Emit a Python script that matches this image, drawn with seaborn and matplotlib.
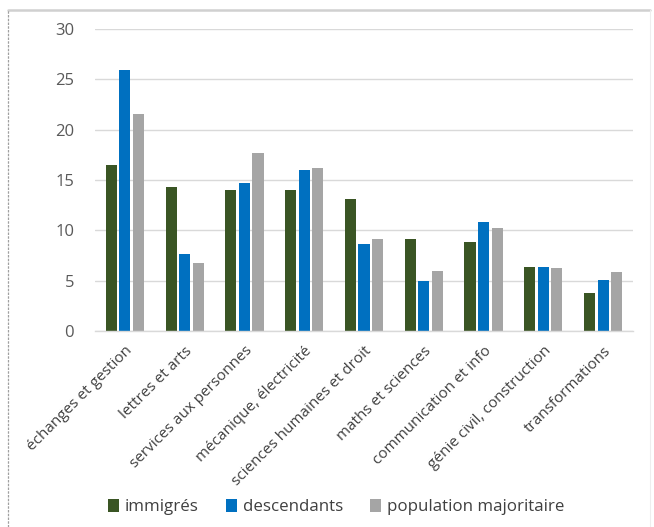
import matplotlib
matplotlib.use("Agg")
import matplotlib.pyplot as plt
from matplotlib.patches import Patch
from matplotlib.lines import Line2D
import pandas as pd
import seaborn as sns

categories = [
    "échanges et gestion",
    "lettres et arts",
    "services aux personnes",
    "mécanique, électricité",
    "sciences humaines et droit",
    "maths et sciences",
    "communication et info",
    "génie civil, construction",
    "transformations",
]
immigres = [16.5, 14.3, 14.0, 14.0, 13.1, 9.1, 8.8, 6.4, 3.8]
descendants = [25.9, 7.6, 14.7, 16.0, 8.6, 5.0, 10.8, 6.4, 5.1]
population_majoritaire = [21.6, 6.8, 17.7, 16.2, 9.1, 6.0, 10.2, 6.3, 5.9]
series_names = ["immigrés", "descendants", "population majoritaire"]
colors = ["#3A5524", "#0070C0", "#A5A5A5"]
y_ticks = [0, 5, 10, 15, 20, 25, 30]

df = pd.DataFrame({
    "categorie": categories * 3,
    "valeur": immigres + descendants + population_majoritaire,
    "groupe": [series_names[0]] * 9 + [series_names[1]] * 9 + [series_names[2]] * 9,
})

sns.set_theme(style="white")
plt.rcParams["font.family"] = ["Open Sans", "DejaVu Sans"]

fig = plt.figure(figsize=(6.54, 5.27), dpi=100)
ax = fig.add_axes([95 / 654, 1 - 331 / 527, 538 / 654, 302 / 527])

sns.barplot(
    data=df, x="categorie", y="valeur", hue="groupe",
    palette=colors, width=0.68, gap=0.18, ax=ax, legend=False,
    saturation=1, linewidth=0,
)

ax.set_ylim(0, 30)
ax.set_xlim(-0.5, len(categories) - 0.5)
ax.set_yticks(y_ticks)
ax.set_yticklabels([str(t) for t in y_ticks])
ax.yaxis.grid(True, color="#D9D9D9", linewidth=1)
ax.set_axisbelow(True)
for side in ["left", "right", "top"]:
    ax.spines[side].set_visible(False)
ax.spines["bottom"].set_color("#D9D9D9")
ax.spines["bottom"].set_linewidth(1)
ax.tick_params(axis="y", length=0, pad=15, labelsize=12, labelcolor="#595959")
ax.tick_params(axis="x", length=0, pad=9, labelsize=11, labelcolor="#404040")
ax.set_xticks(range(len(categories)))
ax.set_xticklabels(categories, rotation=45, ha="right", rotation_mode="anchor")
ax.set_xlabel("")
ax.set_ylabel("")

handles = [Patch(facecolor=c, edgecolor="none") for c in colors]
fig.legend(
    handles, series_names, loc="center", bbox_to_anchor=(336 / 654, 1 - 507 / 527),
    ncol=3, frameon=False, fontsize=12.2, handlelength=0.65, handleheight=0.8,
    handletextpad=0.35, columnspacing=1.6, labelcolor="#404040",
)

# chart frame
fig.add_artist(Line2D([8 / 654, 650 / 654], [1 - 10 / 527, 1 - 10 / 527],
                      transform=fig.transFigure, color="#D0D0D0", linewidth=1.8))
fig.add_artist(Line2D([8 / 654, 8 / 654], [0, 1 - 10 / 527],
                      transform=fig.transFigure, color="#A0A0A0", linewidth=0.9,
                      linestyle=(0, (2, 1))))
fig.add_artist(Line2D([650 / 654, 650 / 654], [0, 1 - 10 / 527],
                      transform=fig.transFigure, color="#EEEEEE", linewidth=0.8))

fig.savefig("out.png", dpi=100)
